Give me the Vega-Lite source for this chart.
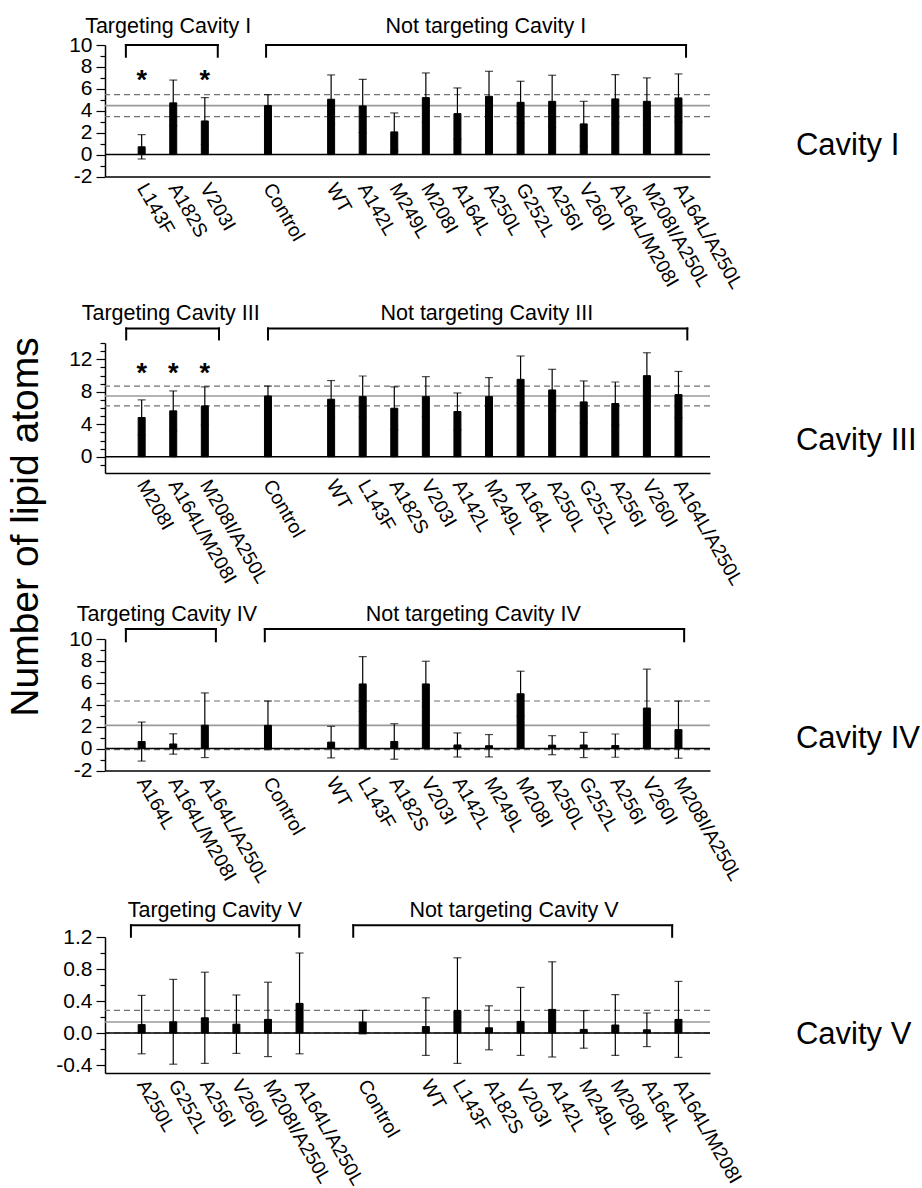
{
 "$schema": "https://vega.github.io/schema/vega-lite/v6.json",
 "padding": {"left": 6, "top": 15, "right": 5, "bottom": 5},
 "title": {"text": "Number of lipid atoms", "orient": "left", "anchor": "middle", "fontSize": 39, "fontWeight": "normal", "color": "black", "offset": 10, "dx": 75},
 "config": {"font": "Liberation Sans", "view": {"stroke": null},
  "axisY": {"ticks": true, "tickSize": 8, "tickColor": "black", "tickWidth": 1.2, "domainColor": "black", "domainWidth": 1.5, "labelFontSize": 21, "labelColor": "black", "labelPadding": 4, "grid": false}},
 "spacing": 166,
 "bounds": "flush",
 "datasets": {
  "c1": [
   {"mut":"L143F","mean":0.71,"sd":1.11,"sig":"*"},
   {"mut":"A182S","mean":4.72,"sd":2.08,"sig":""},
   {"mut":"V203I","mean":3.07,"sd":2.13,"sig":"*"},
   {"mut":"Control","mean":4.47,"sd":1.0,"sig":""},
   {"mut":"WT","mean":5.05,"sd":2.22,"sig":""},
   {"mut":"A142L","mean":4.44,"sd":2.43,"sig":""},
   {"mut":"M249L","mean":2.07,"sd":1.73,"sig":""},
   {"mut":"M208I","mean":5.2,"sd":2.25,"sig":""},
   {"mut":"A164L","mean":3.74,"sd":2.34,"sig":""},
   {"mut":"A250L","mean":5.32,"sd":2.28,"sig":""},
   {"mut":"G252L","mean":4.77,"sd":1.92,"sig":""},
   {"mut":"A256I","mean":4.86,"sd":2.38,"sig":""},
   {"mut":"V260I","mean":2.8,"sd":2.06,"sig":""},
   {"mut":"A164L/M208I","mean":5.08,"sd":2.22,"sig":""},
   {"mut":"M208I/A250L","mean":4.86,"sd":2.14,"sig":""},
   {"mut":"A164L/A250L","mean":5.17,"sd":2.19,"sig":""}
  ],
  "c3": [
   {"mut":"M208I","mean":4.83,"sd":2.17,"sig":"*"},
   {"mut":"A164L/M208I","mean":5.65,"sd":2.45,"sig":"*"},
   {"mut":"M208I/A250L","mean":6.26,"sd":2.34,"sig":"*"},
   {"mut":"Control","mean":7.48,"sd":1.22,"sig":""},
   {"mut":"WT","mean":7.08,"sd":2.3,"sig":""},
   {"mut":"L143F","mean":7.4,"sd":2.54,"sig":""},
   {"mut":"A182S","mean":5.97,"sd":2.63,"sig":""},
   {"mut":"V203I","mean":7.4,"sd":2.46,"sig":""},
   {"mut":"A142L","mean":5.57,"sd":2.28,"sig":""},
   {"mut":"M249L","mean":7.4,"sd":2.34,"sig":""},
   {"mut":"A164L","mean":9.53,"sd":2.87,"sig":""},
   {"mut":"A250L","mean":8.22,"sd":2.54,"sig":""},
   {"mut":"G252L","mean":6.75,"sd":2.58,"sig":""},
   {"mut":"A256I","mean":6.55,"sd":2.65,"sig":""},
   {"mut":"V260I","mean":9.98,"sd":2.82,"sig":""},
   {"mut":"A164L/A250L","mean":7.65,"sd":2.85,"sig":""}
  ],
  "c4": [
   {"mut":"A164L","mean":0.64,"sd":1.78},
   {"mut":"A164L/M208I","mean":0.42,"sd":0.93},
   {"mut":"A164L/A250L","mean":2.13,"sd":2.95},
   {"mut":"Control","mean":2.12,"sd":2.22},
   {"mut":"WT","mean":0.59,"sd":1.44},
   {"mut":"L143F","mean":5.9,"sd":2.5},
   {"mut":"A182S","mean":0.65,"sd":1.62},
   {"mut":"V203I","mean":5.9,"sd":2.07},
   {"mut":"A142L","mean":0.33,"sd":1.1},
   {"mut":"M249L","mean":0.26,"sd":1.02},
   {"mut":"M208I","mean":5.0,"sd":2.06},
   {"mut":"A250L","mean":0.31,"sd":0.87},
   {"mut":"G252L","mean":0.33,"sd":1.15},
   {"mut":"A256I","mean":0.27,"sd":1.06},
   {"mut":"V260I","mean":3.7,"sd":3.55},
   {"mut":"M208I/A250L","mean":1.73,"sd":2.61}
  ],
  "c5": [
   {"mut":"A250L","mean":0.105,"sd":0.365},
   {"mut":"G252L","mean":0.14,"sd":0.53},
   {"mut":"A256I","mean":0.19,"sd":0.57},
   {"mut":"V260I","mean":0.11,"sd":0.365},
   {"mut":"M208I/A250L","mean":0.17,"sd":0.465},
   {"mut":"A164L/A250L","mean":0.37,"sd":0.63},
   {"mut":"Control","mean":0.137,"sd":0.147},
   {"mut":"WT","mean":0.08,"sd":0.36},
   {"mut":"L143F","mean":0.28,"sd":0.66},
   {"mut":"A182S","mean":0.065,"sd":0.275},
   {"mut":"V203I","mean":0.145,"sd":0.425},
   {"mut":"A142L","mean":0.295,"sd":0.595},
   {"mut":"M249L","mean":0.045,"sd":0.235},
   {"mut":"M208I","mean":0.1,"sd":0.38},
   {"mut":"A164L","mean":0.04,"sd":0.21},
   {"mut":"A164L/M208I","mean":0.17,"sd":0.475}
  ],
  "r1": [{"kind":"sd","y":5.47},{"kind":"sd","y":3.47},{"kind":"mean","y":4.47}],
  "r3": [{"kind":"sd","y":8.7},{"kind":"sd","y":6.26},{"kind":"mean","y":7.48}],
  "r4": [{"kind":"sd","y":4.34},{"kind":"sd","y":-0.1},{"kind":"mean","y":2.12}],
  "r5": [{"kind":"sd","y":0.284},{"kind":"sd","y":0.0},{"kind":"mean","y":0.137}],
  "b1": [{"grp":"Targeting Cavity I","side":"T","from":"L143F","to":"V203I","mid":"A182S"},{"grp":"Not targeting Cavity I","side":"N","from":"Control","to":"A164L/A250L","mid":"A250L"}],
  "b3": [{"grp":"Targeting Cavity III","side":"T","from":"M208I","to":"M208I/A250L","mid":"A164L/M208I"},{"grp":"Not targeting Cavity III","side":"N","from":"Control","to":"A164L/A250L","mid":"M249L"}],
  "b4": [{"grp":"Targeting Cavity IV","side":"T","from":"A164L","to":"A164L/A250L","mid":"A164L/M208I"},{"grp":"Not targeting Cavity IV","side":"N","from":"Control","to":"M208I/A250L","mid":"M249L"}],
  "b5": [{"grp":"Targeting Cavity V","side":"T","from":"A250L","to":"A164L/A250L","mid":"A256I"},{"grp":"Not targeting Cavity V","side":"N","from":"Control","to":"A164L/M208I","mid":"V203I"}]
 },
 "vconcat": [
  {
   "width": 605, "height": 131.5,
   "resolve": {"axis": {"y": "independent"}},
   "layer": [
    {"data": {"name": "r1"}, "transform": [{"filter": "datum.kind=='sd'"}], "mark": {"type": "rule", "color": "#707070", "strokeWidth": 1.2, "strokeDash": [6, 4]},
     "encoding": {"y": {"field": "y", "type": "quantitative", "scale": {"domain": [-2, 10], "nice": false, "zero": false},
      "axis": {"orient": "left", "title": null, "values": [-2,0,2,4,6,8,10], "labelExpr": "replace(datum.label, '\u2212', '-')", "tickSize": 9, "labelOverlap": false}}}},
    {"data": {"name": "r1"}, "transform": [{"filter": "datum.kind=='mean'"}], "mark": {"type": "rule", "color": "#9a9a9a", "strokeWidth": 1.6},
     "encoding": {"y": {"field": "y", "type": "quantitative",
      "axis": {"orient": "left", "title": null, "values": [-1,1,3,5,7,9], "labels": false, "domain": false, "tickSize": 5}}}},
    {"data": {"values": [{}]}, "mark": {"type": "rule", "color": "black", "strokeWidth": 1.5}, "encoding": {"y": {"datum": 0, "axis": null}}},
    {"data": {"name": "c1"}, "mark": {"type": "errorbar", "color": "black", "ticks": {"size": 8, "thickness": 1.2, "color": "black"}, "rule": {"strokeWidth": 1.2, "color": "black"}}, "encoding": {"x": {"field": "mut", "type": "nominal"}, "y": {"field": "mean", "type": "quantitative", "axis": null}, "yError": {"field": "sd"}}},
    {"data": {"name": "c1"}, "mark": {"type": "bar", "width": 7, "color": "black", "stroke": "black", "strokeWidth": 1},
     "encoding": {
      "x": {"field": "mut", "type": "nominal",
       "scale": {"domain": ["L143F","A182S","V203I"," ","Control","  ","WT","A142L","M249L","M208I","A164L","A250L","G252L","A256I","V260I","A164L/M208I","M208I/A250L","A164L/A250L"], "paddingInner": 0, "paddingOuter": 0.58, "align": 0.57},
       "axis": {"title": null, "ticks": false, "domainColor": "black", "domainWidth": 1.5, "labelAngle": 60, "labelAlign": "left", "labelBaseline": "middle", "labelFontSize": 19.5, "labelColor": "black", "labelPadding": 8, "labelOverlap": false, "labelLimit": 0}},
      "y": {"field": "mean", "type": "quantitative", "axis": null},
      "y2": {"datum": 0}
     }},
    {"data": {"name": "c1"}, "transform": [{"filter": "datum.sig=='*'"}], "mark": {"type": "text", "fontSize": 27, "fontWeight": "bold", "color": "black", "align": "center", "baseline": "alphabetic"}, "encoding": {"x": {"field": "mut", "type": "nominal"}, "y": {"datum": 6.0, "axis": null}, "text": {"field": "sig"}}},
    {"data": {"values": [{"label": "Cavity I"}]}, "mark": {"type": "text", "fontSize": 31, "color": "black", "align": "left", "baseline": "middle"}, "encoding": {"x": {"datum": "A164L/A250L", "bandPosition": 4.22}, "y": {"datum": 0.82, "axis": null}, "text": {"field": "label"}}},
    {"data": {"name": "b1"}, "transform": [{"filter": "datum.side=='T'"}], "layer": [
     {"mark": {"type": "rule", "color": "black", "strokeWidth": 2, "strokeCap": "square"}, "encoding": {"x": {"field": "from", "type": "nominal", "bandPosition": 0}, "x2": {"field": "to", "bandPosition": 0.91}, "y": {"datum": 10, "axis": null}}},
     {"mark": {"type": "rule", "color": "black", "strokeWidth": 2, "strokeCap": "square"}, "encoding": {"x": {"field": "from", "type": "nominal", "bandPosition": 0}, "y": {"datum": 10, "axis": null}, "y2": {"datum": 8.93}}},
     {"mark": {"type": "rule", "color": "black", "strokeWidth": 2, "strokeCap": "square"}, "encoding": {"x": {"field": "to", "type": "nominal", "bandPosition": 0.91}, "y": {"datum": 10, "axis": null}, "y2": {"datum": 8.93}}},
     {"mark": {"type": "text", "fontSize": 21.5, "color": "black", "align": "center", "baseline": "middle"}, "encoding": {"x": {"field": "mid", "type": "nominal", "bandPosition": 0.34}, "y": {"datum": 11.65, "axis": null}, "text": {"field": "grp"}}}
    ]},
    {"data": {"name": "b1"}, "transform": [{"filter": "datum.side=='N'"}], "layer": [
     {"mark": {"type": "rule", "color": "black", "strokeWidth": 2, "strokeCap": "square"}, "encoding": {"x": {"field": "from", "type": "nominal", "bandPosition": 0.44}, "x2": {"field": "to", "bandPosition": 0.74}, "y": {"datum": 10, "axis": null}}},
     {"mark": {"type": "rule", "color": "black", "strokeWidth": 2, "strokeCap": "square"}, "encoding": {"x": {"field": "from", "type": "nominal", "bandPosition": 0.44}, "y": {"datum": 10, "axis": null}, "y2": {"datum": 8.93}}},
     {"mark": {"type": "rule", "color": "black", "strokeWidth": 2, "strokeCap": "square"}, "encoding": {"x": {"field": "to", "type": "nominal", "bandPosition": 0.74}, "y": {"datum": 10, "axis": null}, "y2": {"datum": 8.93}}},
     {"mark": {"type": "text", "fontSize": 21.5, "color": "black", "align": "center", "baseline": "middle"}, "encoding": {"x": {"field": "mid", "type": "nominal", "bandPosition": 0.4}, "y": {"datum": 11.65, "axis": null}, "text": {"field": "grp"}}}
    ]}
   ]
  },
  {
   "width": 605, "height": 130,
   "resolve": {"axis": {"y": "independent"}},
   "layer": [
    {"data": {"name": "r3"}, "transform": [{"filter": "datum.kind=='sd'"}], "mark": {"type": "rule", "color": "#707070", "strokeWidth": 1.2, "strokeDash": [6, 4]},
     "encoding": {"y": {"field": "y", "type": "quantitative", "scale": {"domain": [-2, 14], "nice": false, "zero": false},
      "axis": {"orient": "left", "title": null, "values": [0,4,8,12], "labelExpr": "replace(datum.label, '\u2212', '-')", "tickSize": 9, "labelOverlap": false}}}},
    {"data": {"name": "r3"}, "transform": [{"filter": "datum.kind=='mean'"}], "mark": {"type": "rule", "color": "#9a9a9a", "strokeWidth": 1.6},
     "encoding": {"y": {"field": "y", "type": "quantitative",
      "axis": {"orient": "left", "title": null, "values": [-1,1,2,3,5,6,7,9,10,11,13,14], "labels": false, "domain": false, "tickSize": 5}}}},
    {"data": {"values": [{}]}, "mark": {"type": "rule", "color": "black", "strokeWidth": 1.5}, "encoding": {"y": {"datum": 0, "axis": null}}},
    {"data": {"name": "c3"}, "mark": {"type": "errorbar", "color": "black", "ticks": {"size": 8, "thickness": 1.2, "color": "black"}, "rule": {"strokeWidth": 1.2, "color": "black"}}, "encoding": {"x": {"field": "mut", "type": "nominal"}, "y": {"field": "mean", "type": "quantitative", "axis": null}, "yError": {"field": "sd"}}},
    {"data": {"name": "c3"}, "mark": {"type": "bar", "width": 7, "color": "black", "stroke": "black", "strokeWidth": 1},
     "encoding": {
      "x": {"field": "mut", "type": "nominal",
       "scale": {"domain": ["M208I","A164L/M208I","M208I/A250L"," ","Control","  ","WT","L143F","A182S","V203I","A142L","M249L","A164L","A250L","G252L","A256I","V260I","A164L/A250L"], "paddingInner": 0, "paddingOuter": 0.58, "align": 0.57},
       "axis": {"title": null, "ticks": false, "domainColor": "black", "domainWidth": 1.5, "labelAngle": 60, "labelAlign": "left", "labelBaseline": "middle", "labelFontSize": 19.5, "labelColor": "black", "labelPadding": 8, "labelOverlap": false, "labelLimit": 0}},
      "y": {"field": "mean", "type": "quantitative", "axis": null},
      "y2": {"datum": 0}
     }},
    {"data": {"name": "c3"}, "transform": [{"filter": "datum.sig=='*'"}], "mark": {"type": "text", "fontSize": 27, "fontWeight": "bold", "color": "black", "align": "center", "baseline": "alphabetic"}, "encoding": {"x": {"field": "mut", "type": "nominal"}, "y": {"datum": 9.26, "axis": null}, "text": {"field": "sig"}}},
    {"data": {"values": [{"label": "Cavity III"}]}, "mark": {"type": "text", "fontSize": 31, "color": "black", "align": "left", "baseline": "middle"}, "encoding": {"x": {"datum": "A164L/A250L", "bandPosition": 4.22}, "y": {"datum": 1.96, "axis": null}, "text": {"field": "label"}}},
    {"data": {"name": "b3"}, "transform": [{"filter": "datum.side=='T'"}], "layer": [
     {"mark": {"type": "rule", "color": "black", "strokeWidth": 2, "strokeCap": "square"}, "encoding": {"x": {"field": "from", "type": "nominal", "bandPosition": 0.01}, "x2": {"field": "to", "bandPosition": 0.95}, "y": {"datum": 15.79, "axis": null}}},
     {"mark": {"type": "rule", "color": "black", "strokeWidth": 2, "strokeCap": "square"}, "encoding": {"x": {"field": "from", "type": "nominal", "bandPosition": 0.01}, "y": {"datum": 15.79, "axis": null}, "y2": {"datum": 14.44}}},
     {"mark": {"type": "rule", "color": "black", "strokeWidth": 2, "strokeCap": "square"}, "encoding": {"x": {"field": "to", "type": "nominal", "bandPosition": 0.95}, "y": {"datum": 15.79, "axis": null}, "y2": {"datum": 14.44}}},
     {"mark": {"type": "text", "fontSize": 21.5, "color": "black", "align": "center", "baseline": "middle"}, "encoding": {"x": {"field": "mid", "type": "nominal", "bandPosition": 0.42}, "y": {"datum": 17.6, "axis": null}, "text": {"field": "grp"}}}
    ]},
    {"data": {"name": "b3"}, "transform": [{"filter": "datum.side=='N'"}], "layer": [
     {"mark": {"type": "rule", "color": "black", "strokeWidth": 2, "strokeCap": "square"}, "encoding": {"x": {"field": "from", "type": "nominal", "bandPosition": 0.5}, "x2": {"field": "to", "bandPosition": 0.78}, "y": {"datum": 15.79, "axis": null}}},
     {"mark": {"type": "rule", "color": "black", "strokeWidth": 2, "strokeCap": "square"}, "encoding": {"x": {"field": "from", "type": "nominal", "bandPosition": 0.5}, "y": {"datum": 15.79, "axis": null}, "y2": {"datum": 14.44}}},
     {"mark": {"type": "rule", "color": "black", "strokeWidth": 2, "strokeCap": "square"}, "encoding": {"x": {"field": "to", "type": "nominal", "bandPosition": 0.78}, "y": {"datum": 15.79, "axis": null}, "y2": {"datum": 14.44}}},
     {"mark": {"type": "text", "fontSize": 21.5, "color": "black", "align": "center", "baseline": "middle"}, "encoding": {"x": {"field": "mid", "type": "nominal", "bandPosition": 0.43}, "y": {"datum": 17.6, "axis": null}, "text": {"field": "grp"}}}
    ]}
   ]
  },
  {
   "width": 605, "height": 131.5,
   "resolve": {"axis": {"y": "independent"}},
   "layer": [
    {"data": {"name": "r4"}, "transform": [{"filter": "datum.kind=='sd'"}], "mark": {"type": "rule", "color": "#707070", "strokeWidth": 1.2, "strokeDash": [6, 4]},
     "encoding": {"y": {"field": "y", "type": "quantitative", "scale": {"domain": [-2, 10], "nice": false, "zero": false},
      "axis": {"orient": "left", "title": null, "values": [-2,0,2,4,6,8,10], "labelExpr": "replace(datum.label, '\u2212', '-')", "tickSize": 9, "labelOverlap": false}}}},
    {"data": {"name": "r4"}, "transform": [{"filter": "datum.kind=='mean'"}], "mark": {"type": "rule", "color": "#9a9a9a", "strokeWidth": 1.6},
     "encoding": {"y": {"field": "y", "type": "quantitative",
      "axis": {"orient": "left", "title": null, "values": [-1,1,3,5,7,9], "labels": false, "domain": false, "tickSize": 5}}}},
    {"data": {"values": [{}]}, "mark": {"type": "rule", "color": "black", "strokeWidth": 1.5}, "encoding": {"y": {"datum": 0, "axis": null}}},
    {"data": {"name": "c4"}, "mark": {"type": "errorbar", "color": "black", "ticks": {"size": 8, "thickness": 1.2, "color": "black"}, "rule": {"strokeWidth": 1.2, "color": "black"}}, "encoding": {"x": {"field": "mut", "type": "nominal"}, "y": {"field": "mean", "type": "quantitative", "axis": null}, "yError": {"field": "sd"}}},
    {"data": {"name": "c4"}, "mark": {"type": "bar", "width": 7, "color": "black", "stroke": "black", "strokeWidth": 1},
     "encoding": {
      "x": {"field": "mut", "type": "nominal",
       "scale": {"domain": ["A164L","A164L/M208I","A164L/A250L"," ","Control","  ","WT","L143F","A182S","V203I","A142L","M249L","M208I","A250L","G252L","A256I","V260I","M208I/A250L"], "paddingInner": 0, "paddingOuter": 0.58, "align": 0.57},
       "axis": {"title": null, "ticks": false, "domainColor": "black", "domainWidth": 1.5, "labelAngle": 60, "labelAlign": "left", "labelBaseline": "middle", "labelFontSize": 19.5, "labelColor": "black", "labelPadding": 8, "labelOverlap": false, "labelLimit": 0}},
      "y": {"field": "mean", "type": "quantitative", "axis": null},
      "y2": {"datum": 0}
     }},
    {"data": {"values": [{"label": "Cavity IV"}]}, "mark": {"type": "text", "fontSize": 31, "color": "black", "align": "left", "baseline": "middle"}, "encoding": {"x": {"datum": "M208I/A250L", "bandPosition": 4.22}, "y": {"datum": 0.9, "axis": null}, "text": {"field": "label"}}},
    {"data": {"name": "b4"}, "transform": [{"filter": "datum.side=='T'"}], "layer": [
     {"mark": {"type": "rule", "color": "black", "strokeWidth": 2, "strokeCap": "square"}, "encoding": {"x": {"field": "from", "type": "nominal", "bandPosition": 0}, "x2": {"field": "to", "bandPosition": 0.85}, "y": {"datum": 10.91, "axis": null}}},
     {"mark": {"type": "rule", "color": "black", "strokeWidth": 2, "strokeCap": "square"}, "encoding": {"x": {"field": "from", "type": "nominal", "bandPosition": 0}, "y": {"datum": 10.91, "axis": null}, "y2": {"datum": 9.79}}},
     {"mark": {"type": "rule", "color": "black", "strokeWidth": 2, "strokeCap": "square"}, "encoding": {"x": {"field": "to", "type": "nominal", "bandPosition": 0.85}, "y": {"datum": 10.91, "axis": null}, "y2": {"datum": 9.79}}},
     {"mark": {"type": "text", "fontSize": 21.5, "color": "black", "align": "center", "baseline": "middle"}, "encoding": {"x": {"field": "mid", "type": "nominal", "bandPosition": 0.3}, "y": {"datum": 12.2, "axis": null}, "text": {"field": "grp"}}}
    ]},
    {"data": {"name": "b4"}, "transform": [{"filter": "datum.side=='N'"}], "layer": [
     {"mark": {"type": "rule", "color": "black", "strokeWidth": 2, "strokeCap": "square"}, "encoding": {"x": {"field": "from", "type": "nominal", "bandPosition": 0.4}, "x2": {"field": "to", "bandPosition": 0.68}, "y": {"datum": 10.91, "axis": null}}},
     {"mark": {"type": "rule", "color": "black", "strokeWidth": 2, "strokeCap": "square"}, "encoding": {"x": {"field": "from", "type": "nominal", "bandPosition": 0.4}, "y": {"datum": 10.91, "axis": null}, "y2": {"datum": 9.79}}},
     {"mark": {"type": "rule", "color": "black", "strokeWidth": 2, "strokeCap": "square"}, "encoding": {"x": {"field": "to", "type": "nominal", "bandPosition": 0.68}, "y": {"datum": 10.91, "axis": null}, "y2": {"datum": 9.79}}},
     {"mark": {"type": "text", "fontSize": 21.5, "color": "black", "align": "center", "baseline": "middle"}, "encoding": {"x": {"field": "mid", "type": "nominal", "bandPosition": 0.0}, "y": {"datum": 12.2, "axis": null}, "text": {"field": "grp"}}}
    ]}
   ]
  },
  {
   "width": 605, "height": 136,
   "resolve": {"axis": {"y": "independent"}},
   "layer": [
    {"data": {"name": "r5"}, "transform": [{"filter": "datum.kind=='sd'"}], "mark": {"type": "rule", "color": "#707070", "strokeWidth": 1.2, "strokeDash": [6, 4]},
     "encoding": {"y": {"field": "y", "type": "quantitative", "scale": {"domain": [-0.5, 1.2], "nice": false, "zero": false},
      "axis": {"orient": "left", "title": null, "values": [-0.4,0,0.4,0.8,1.2], "format": ".1f", "labelExpr": "replace(datum.label, '\u2212', '-')", "tickSize": 9, "labelOverlap": false}}}},
    {"data": {"name": "r5"}, "transform": [{"filter": "datum.kind=='mean'"}], "mark": {"type": "rule", "color": "#9a9a9a", "strokeWidth": 1.6},
     "encoding": {"y": {"field": "y", "type": "quantitative",
      "axis": {"orient": "left", "title": null, "values": [-0.2,0.2,0.6,1.0], "labels": false, "domain": false, "tickSize": 5}}}},
    {"data": {"values": [{}]}, "mark": {"type": "rule", "color": "black", "strokeWidth": 1.5}, "encoding": {"y": {"datum": 0, "axis": null}}},
    {"data": {"name": "c5"}, "mark": {"type": "errorbar", "color": "black", "ticks": {"size": 8, "thickness": 1.2, "color": "black"}, "rule": {"strokeWidth": 1.2, "color": "black"}}, "encoding": {"x": {"field": "mut", "type": "nominal"}, "y": {"field": "mean", "type": "quantitative", "axis": null}, "yError": {"field": "sd"}}},
    {"data": {"name": "c5"}, "mark": {"type": "bar", "width": 7, "color": "black", "stroke": "black", "strokeWidth": 1},
     "encoding": {
      "x": {"field": "mut", "type": "nominal",
       "scale": {"domain": ["A250L","G252L","A256I","V260I","M208I/A250L","A164L/A250L"," ","Control","  ","WT","L143F","A182S","V203I","A142L","M249L","M208I","A164L","A164L/M208I"], "paddingInner": 0, "paddingOuter": 0.58, "align": 0.57},
       "axis": {"title": null, "ticks": false, "domainColor": "black", "domainWidth": 1.5, "labelAngle": 60, "labelAlign": "left", "labelBaseline": "middle", "labelFontSize": 19.5, "labelColor": "black", "labelPadding": 8, "labelOverlap": false, "labelLimit": 0}},
      "y": {"field": "mean", "type": "quantitative", "axis": null},
      "y2": {"datum": 0}
     }},
    {"data": {"values": [{"label": "Cavity V"}]}, "mark": {"type": "text", "fontSize": 31, "color": "black", "align": "left", "baseline": "middle"}, "encoding": {"x": {"datum": "A164L/M208I", "bandPosition": 4.22}, "y": {"datum": -0.03, "axis": null}, "text": {"field": "label"}}},
    {"data": {"name": "b5"}, "transform": [{"filter": "datum.side=='T'"}], "layer": [
     {"mark": {"type": "rule", "color": "black", "strokeWidth": 2, "strokeCap": "square"}, "encoding": {"x": {"field": "from", "type": "nominal", "bandPosition": 0.16}, "x2": {"field": "to", "bandPosition": 0.49}, "y": {"datum": 1.346, "axis": null}}},
     {"mark": {"type": "rule", "color": "black", "strokeWidth": 2, "strokeCap": "square"}, "encoding": {"x": {"field": "from", "type": "nominal", "bandPosition": 0.16}, "y": {"datum": 1.346, "axis": null}, "y2": {"datum": 1.203}}},
     {"mark": {"type": "rule", "color": "black", "strokeWidth": 2, "strokeCap": "square"}, "encoding": {"x": {"field": "to", "type": "nominal", "bandPosition": 0.49}, "y": {"datum": 1.346, "axis": null}, "y2": {"datum": 1.203}}},
     {"mark": {"type": "text", "fontSize": 21.5, "color": "black", "align": "center", "baseline": "middle"}, "encoding": {"x": {"field": "mid", "type": "nominal", "bandPosition": 0.82}, "y": {"datum": 1.53, "axis": null}, "text": {"field": "grp"}}}
    ]},
    {"data": {"name": "b5"}, "transform": [{"filter": "datum.side=='N'"}], "layer": [
     {"mark": {"type": "rule", "color": "black", "strokeWidth": 2, "strokeCap": "square"}, "encoding": {"x": {"field": "from", "type": "nominal", "bandPosition": 0.2}, "x2": {"field": "to", "bandPosition": 0.3}, "y": {"datum": 1.346, "axis": null}}},
     {"mark": {"type": "rule", "color": "black", "strokeWidth": 2, "strokeCap": "square"}, "encoding": {"x": {"field": "from", "type": "nominal", "bandPosition": 0.2}, "y": {"datum": 1.346, "axis": null}, "y2": {"datum": 1.203}}},
     {"mark": {"type": "rule", "color": "black", "strokeWidth": 2, "strokeCap": "square"}, "encoding": {"x": {"field": "to", "type": "nominal", "bandPosition": 0.3}, "y": {"datum": 1.346, "axis": null}, "y2": {"datum": 1.203}}},
     {"mark": {"type": "text", "fontSize": 21.5, "color": "black", "align": "center", "baseline": "middle"}, "encoding": {"x": {"field": "mid", "type": "nominal", "bandPosition": 0.29}, "y": {"datum": 1.53, "axis": null}, "text": {"field": "grp"}}}
    ]}
   ]
  }
 ]
}
